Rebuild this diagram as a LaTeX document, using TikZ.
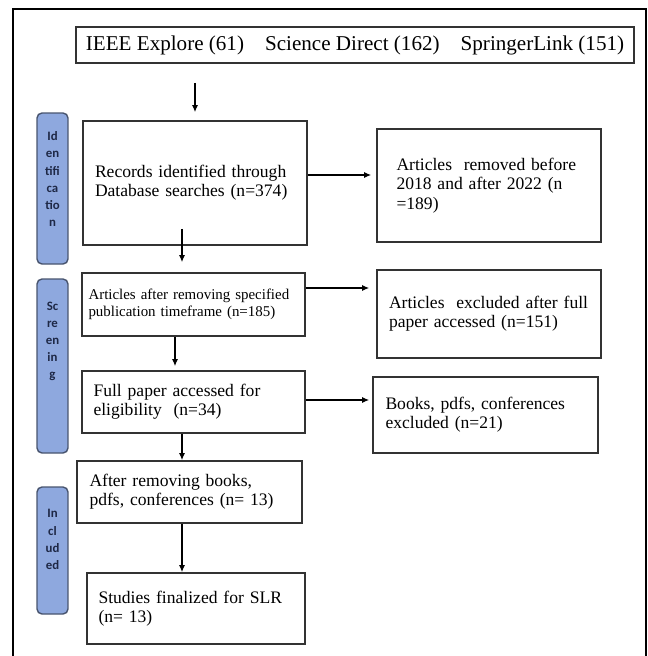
\documentclass[tikz,border=0pt]{standalone}
\usepackage{fontspec}
\setmainfont{Liberation Serif}
\newfontfamily\tagfont{Carlito}
\usetikzlibrary{arrows.meta,positioning}
\definecolor{tagblue}{RGB}{142,168,222}
\definecolor{tagedge}{RGB}{72,84,110}
\definecolor{tagtext}{RGB}{30,40,70}

\begin{document}
\begin{tikzpicture}[node distance=1.5cm,
    every node/.style={fill=white}, align=left]
		\tikzset{%
  >={Latex[width=1.2mm,length=1.4mm]},
  % Specifications for style of nodes:
            base/.style = {rectangle, draw=black!80, line width=0.9pt,
                           minimum width=4.48cm, text width=4cm,
                           font=\fontsize{10}{11}\selectfont},
  source/.style = {rectangle, draw=black!80, line width=0.9pt,
                           minimum width=11.16cm, minimum height=0.72cm,
                           align=center, font=\fontsize{12}{14}\selectfont},
       stage/.style = {rectangle, rounded corners=1mm, draw=tagedge,
                           line width=0.8pt, fill=tagblue, minimum width=0.62cm},
   stagetext/.style = {fill=none, inner sep=0pt, text=tagtext, align=center,
                           font=\tagfont\bfseries\fontsize{7.3}{9.8}\selectfont},
        flow/.style = {->, line width=0.7pt},
}
  \useasboundingbox (0,0) rectangle (12.96,-13.12);
  \draw[line width=1.1pt] (0.26,-13.12) -- (0.26,-0.18) -- (12.92,-0.18) -- (12.92,-13.12);

  % Specification of nodes (position, etc.)
  \node (src) [source] at (7.10,-0.90) {IEEE Explore (61)\quad Science Direct (162)\quad SpringerLink (151)};

  \node (rec) [base, below of=src, xshift=-3.20cm, yshift=-1.26cm, minimum height=2.48cm] {Records identified through\\Database searches (n=374)};
  \node (rem) [base, right of=rec, xshift=4.38cm, yshift=-0.05cm, minimum height=2.26cm, text width=3.7cm] {Articles~ removed before\\2018 and after 2022 (n\\=189)};

  \node (after) [base, below of=rec, xshift=-0.03cm, yshift=-0.93cm, minimum width=4.46cm, minimum height=1.26cm, text width=4.2cm, font=\fontsize{8.5}{10}\selectfont] {Articles after removing specified\\publication timeframe (n=185)};
  \node (exc) [base, right of=after, xshift=4.41cm, yshift=-0.19cm, minimum height=1.76cm] {Articles~ excluded after full\\paper accessed (n=151)};

  \node (full) [base, below of=after, yshift=-0.45cm, minimum width=4.46cm, minimum height=1.24cm] {Full paper accessed for\\eligibility~ (n=34)};
  \node (books) [base, right of=full, xshift=4.34cm, yshift=-0.26cm, minimum width=4.50cm, minimum height=1.52cm] {Books, pdfs, conferences\\excluded (n=21)};

  \node (afterb) [base, below of=full, xshift=-0.08cm, yshift=-0.30cm, minimum width=4.50cm, minimum height=1.24cm] {After removing books,\\pdfs, conferences (n= 13)};
  \node (studies) [base, below of=afterb, xshift=0.13cm, yshift=-0.83cm, minimum width=4.36cm, minimum height=1.42cm, text width=3.9cm] {Studies finalized for SLR\\(n= 13)};

  % stage tags on the left
  \node (ident) [stage, left of=rec, xshift=-1.35cm, yshift=-0.11cm, minimum height=3.02cm,
      label={[stagetext, anchor=north, yshift=-0.38cm]north:Id\\en\\tifi\\ca\\tio\\n}] {};
  \node (screen) [stage, left of=after, xshift=-1.32cm, yshift=-1.23cm, minimum height=3.48cm,
      label={[stagetext, anchor=north, yshift=-0.46cm]north:Sc\\re\\en\\in\\g}] {};
  \node (incl) [stage, left of=afterb, xshift=-1.24cm, yshift=-1.17cm, minimum height=2.54cm,
      label={[stagetext, anchor=north, yshift=-0.46cm]north:In\\cl\\ud\\ed}] {};

  % Specification of lines between nodes specified above
\draw[flow, shorten <=0.38cm, shorten >=0.16cm] (rec.north |- src.south) -- (rec.north);
\draw[flow, shorten >=0.1cm] ([yshift=0.16cm]rec.east) -- ([yshift=0.16cm]rec.east -| rem.west);
\draw[flow, shorten <=-0.34cm, shorten >=0.2cm] ([xshift=-0.26cm]rec.south) -- ([xshift=-0.26cm]rec.south |- after.north);
\draw[flow, shorten >=0.14cm] ([yshift=0.33cm]after.east) -- ([yshift=0.33cm]after.east -| exc.west);
\draw[flow, shorten >=0.08cm] ([xshift=-0.37cm]after.south) -- ([xshift=-0.37cm]after.south |- full.north);
\draw[flow, shorten >=0.06cm] ([yshift=0.04cm]full.east) -- ([yshift=0.04cm]full.east -| books.west);
\draw[flow] ([xshift=-0.23cm]full.south) -- ([xshift=-0.23cm]full.south |- afterb.north);
\draw[flow] ([xshift=-0.15cm]afterb.south) -- ([xshift=-0.15cm]afterb.south |- studies.north);

  \end{tikzpicture}
\end{document}
